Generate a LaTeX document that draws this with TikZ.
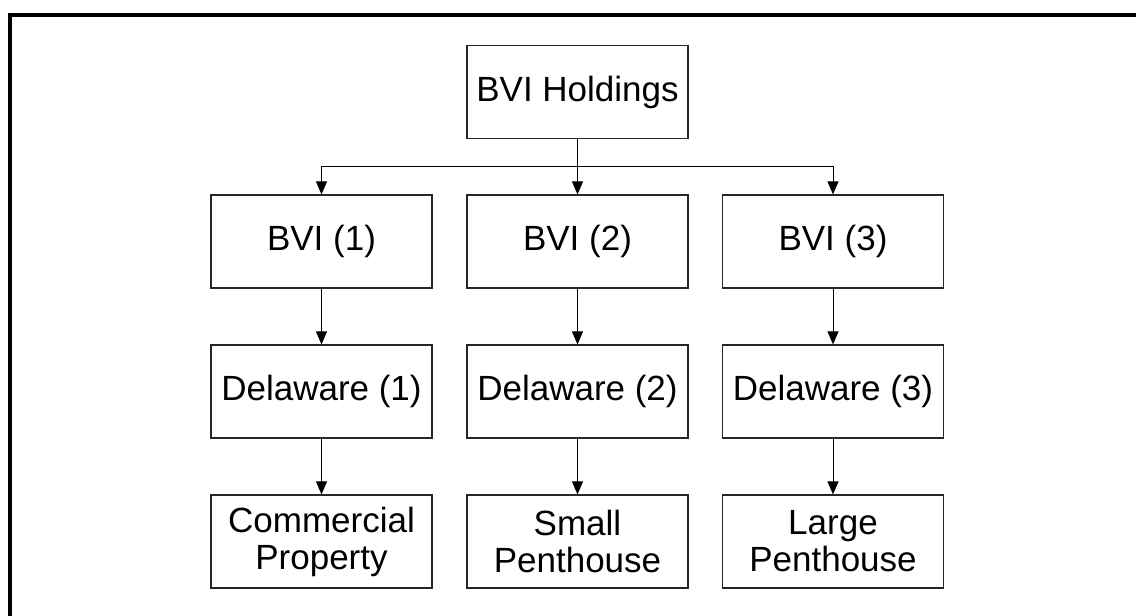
\documentclass[tikz,border=0pt]{standalone}
\usepackage{fontspec}
\setmainfont{Liberation Sans}
\usetikzlibrary{arrows.meta}
\begin{document}
\begin{tikzpicture}[x=1pt,y=-1pt,
  entity/.style={draw=black!85, line width=1.2pt, fill=white,
    minimum width=221pt, minimum height=93pt, inner sep=0pt,
    align=center, font=\fontsize{35}{37}\selectfont},
  link/.style={line width=1pt, -{Triangle[length=13pt,width=11pt]}}]
\useasboundingbox (0,0) rectangle (1136,616);
% frame along the top and left edges
\draw[line width=4pt] (10,616) -- (10,14.5) -- (1136,14.5);
% holding company
\node[entity] (hold) at (577.5,92) {BVI Holdings};
% BVI subsidiaries
\node[entity] (b1) at (321.5,241.5) {BVI (1)};
\node[entity] (b2) at (577.5,241.5) {BVI (2)};
\node[entity] (b3) at (833,241.5) {BVI (3)};
% Delaware companies
\node[entity] (d1) at (321.5,391.5) {Delaware (1)};
\node[entity] (d2) at (577.5,391.5) {Delaware (2)};
\node[entity] (d3) at (833,391.5) {Delaware (3)};
% properties
\node[entity] (p1) at (321.5,541.5) {Commercial\\Property};
\node[entity] (p2) at (577.5,541.5) {Small\\Penthouse};
\node[entity] (p3) at (833,541.5) {Large\\Penthouse};
% connectors
\coordinate (bus) at (577.5,166);
\draw[line width=1pt] (hold.south) -- (bus);
\draw[link] (bus) -| (b1.north);
\draw[link] (bus) -- (b2.north);
\draw[link] (bus) -| (b3.north);
\foreach \i in {1,2,3} {
  \draw[link] (b\i.south) -- (d\i.north);
  \draw[link] (d\i.south) -- (p\i.north);
}
\end{tikzpicture}
\end{document}
